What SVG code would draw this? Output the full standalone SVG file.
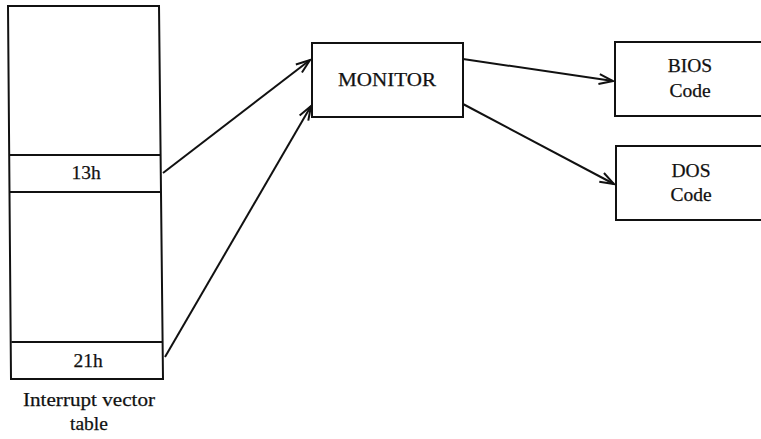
<svg xmlns="http://www.w3.org/2000/svg" width="761" height="439" viewBox="0 0 761 439">
  <style>
    .box { fill: #fff; stroke: #111; stroke-width: 2; }
    .line { fill: none; stroke: #111; stroke-width: 2; }
    .lbl { font-family: "Liberation Serif", "Times New Roman", serif; font-size: 19.5px; fill: #111; stroke: #111; stroke-width: 0.25; text-anchor: middle; }
  </style>
  <defs>
    <marker id="arrow" markerUnits="userSpaceOnUse" viewBox="-15 -7 17 14" refX="0" refY="0" markerWidth="17" markerHeight="14" orient="auto">
      <path d="M -14 -5 L 0 0 L -14 5" fill="none" stroke="#111" stroke-width="2"/>
    </marker>
  </defs>
  <rect width="761" height="439" fill="#fff"/>

  <!-- interrupt vector table -->
  <g id="ivt">
    <path class="box" d="M 8 6 L 159 6 L 163 379 L 11 379 Z"/>
    <path class="line" d="M 9.6 155 L 160.6 155 M 10 192 L 161 192 M 11.4 342 L 162.6 342"/>
    <text class="lbl" x="86" y="179">13h</text>
    <text class="lbl" x="88" y="367">21h</text>
    <text class="lbl" x="89" y="406" textLength="132" lengthAdjust="spacingAndGlyphs">Interrupt vector</text>
    <text class="lbl" x="89" y="430">table</text>
  </g>

  <g id="monitor">
    <rect class="box" x="312" y="43" width="151" height="74"/>
    <text class="lbl" x="387" y="86" textLength="98" lengthAdjust="spacingAndGlyphs">MONITOR</text>
  </g>

  <g id="bios">
    <rect class="box" x="615" y="42" width="150" height="74"/>
    <text class="lbl" x="690" y="72">BIOS</text>
    <text class="lbl" x="690" y="97">Code</text>
  </g>

  <g id="dos">
    <rect class="box" x="616" y="146" width="150" height="74"/>
    <text class="lbl" x="691" y="177">DOS</text>
    <text class="lbl" x="691" y="201">Code</text>
  </g>

  <!-- connectors -->
  <g id="connectors">
    <path class="line" d="M 163 173 L 310 60" marker-end="url(#arrow)"/>
    <path class="line" d="M 165 357 L 311 106" marker-end="url(#arrow)"/>
    <path class="line" d="M 463 59 L 613 81" marker-end="url(#arrow)"/>
    <path class="line" d="M 463 104 L 614 184" marker-end="url(#arrow)"/>
  </g>
</svg>
